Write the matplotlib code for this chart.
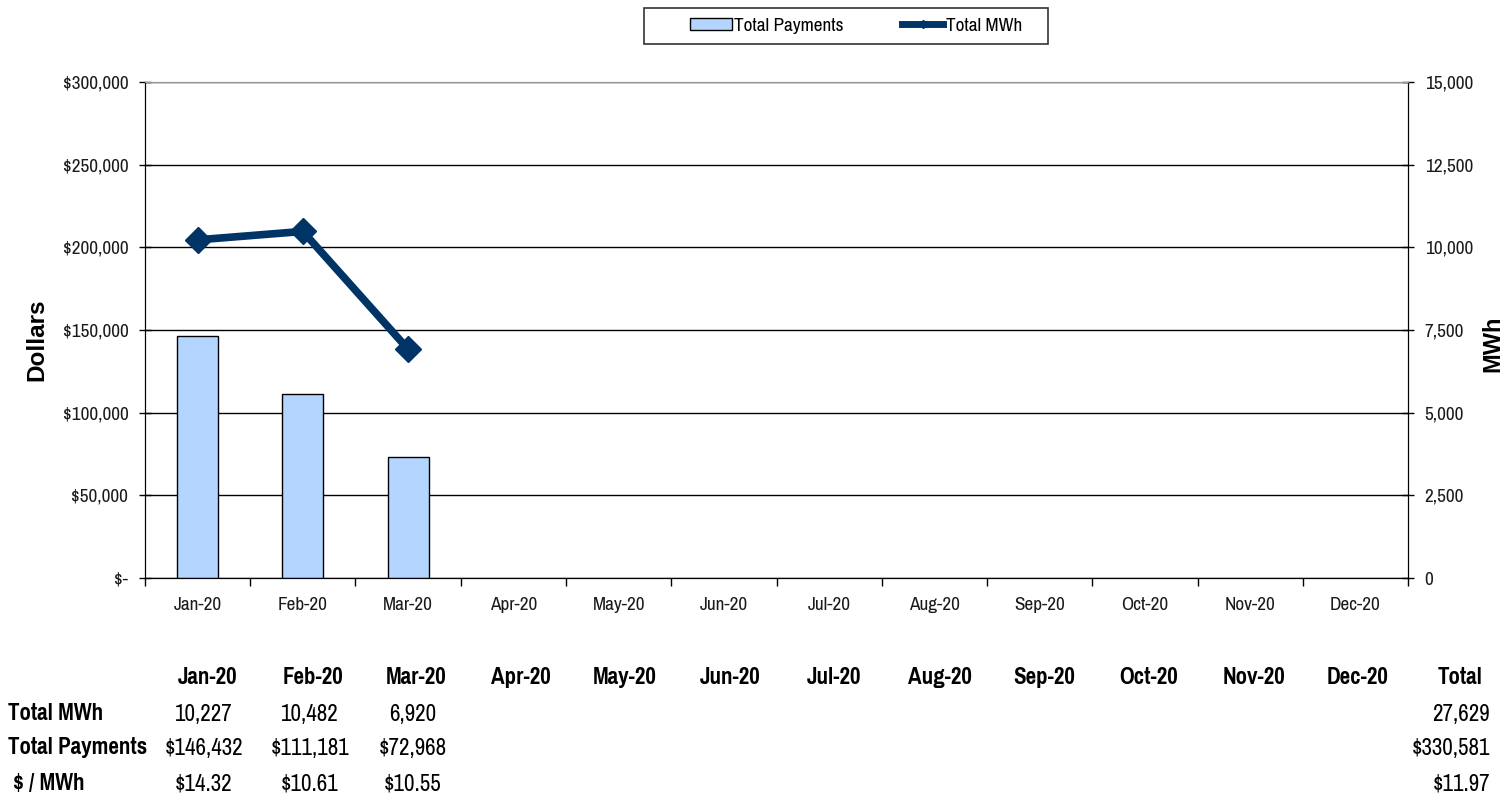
import matplotlib as mpl
mpl.use("Agg")
import matplotlib.pyplot as plt
import matplotlib.ticker as mticker
from matplotlib.patches import Patch, Rectangle
from matplotlib.lines import Line2D

mpl.rcParams['font.family'] = ['Pragati Narrow', 'Archivo Narrow', 'Liberation Sans', 'DejaVu Sans']

COLOR_BAR = "#B3D5FF"
COLOR_LINE = "#013466"
TEXT = "#1a1a1a"

MONTHS = ["Jan-20", "Feb-20", "Mar-20", "Apr-20", "May-20", "Jun-20",
          "Jul-20", "Aug-20", "Sep-20", "Oct-20", "Nov-20", "Dec-20"]
payments = [146432, 111181, 72968]
mwh = [10227, 10482, 6920]

row_labels = ["Total MWh", "Total Payments", " $ / MWh"]
row_values = [["10,227", "10,482", "6,920"],
              ["$146,432", "$111,181", "$72,968"],
              ["$14.32", "$10.61", "$10.55"]]
row_totals = ["27,629", "$330,581", "$11.97"]

W, H = 1510.0, 801.0
fig = plt.figure(figsize=(15.10, 8.01), dpi=100)
ax = fig.add_axes([0.096, 0.2784, 0.8365, 0.6192])
ax2 = ax.twinx()

x_bar = list(range(len(payments)))
ax.bar(x_bar, payments, width=0.39, color=COLOR_BAR, edgecolor="black",
       linewidth=1.0, zorder=3)
ax2.plot(range(len(mwh)), mwh, color=COLOR_LINE, linewidth=5.5,
         marker="D", markersize=13, zorder=4)

ax.set_xlim(-0.5, 11.5)
ax.set_ylim(0, 300000)
ax2.set_ylim(0, 15000)
ax.set_yticks(range(0, 300001, 50000))
ax2.set_yticks(range(0, 15001, 2500))

ax.yaxis.set_major_formatter(mticker.FuncFormatter(
    lambda v, p: "$-" if v == 0 else "${:,.0f}".format(v)))
ax2.yaxis.set_major_formatter(mticker.FuncFormatter(
    lambda v, p: "{:,.0f}".format(v)))

ax.set_xticks(range(12))
ax.set_xticklabels(MONTHS)
ax.set_xticks([i + 0.5 for i in range(-1, 12)], minor=True)
ax.tick_params(axis="x", which="major", length=0, pad=14,
               labelsize=15, labelcolor=TEXT)
ax.tick_params(axis="x", which="minor", length=6, direction="out",
               width=1, color="black")

ax.tick_params(axis="y", direction="inout", length=8, width=1,
               labelsize=15, labelcolor=TEXT, pad=8)
ax2.tick_params(axis="y", direction="inout", length=8, width=1,
                labelsize=15, labelcolor=TEXT, pad=8)

ax.grid(axis="y", color="black", linewidth=1, zorder=0)
ax.set_axisbelow(True)
for a in (ax, ax2):
    a.spines["top"].set_color("#999999")
    a.spines["left"].set_color("black")
    a.spines["right"].set_color("black")
    a.spines["bottom"].set_color("black")

fig.text(37 / W, 1 - 340 / H, "Dollars", rotation=90, ha="center", va="center",
         fontsize=17.5, fontweight="bold", family="Liberation Sans")
fig.text(1493 / W, 1 - 344 / H, "MWh", rotation=90, ha="center", va="center",
         fontsize=17, fontweight="bold", family="Liberation Sans")

# legend: frame drawn as a box, entries centred inside it
fig.patches.append(Rectangle((644 / W, 1 - 44 / H), 404 / W, 36 / H,
                             transform=fig.transFigure, facecolor="white",
                             edgecolor="#333333", linewidth=1.2))
handles = [Patch(facecolor=COLOR_BAR, edgecolor="black", label="Total Payments"),
           Line2D([0], [0], color=COLOR_LINE, linewidth=5, marker="D",
                  markersize=4, label="Total MWh")]
leg = fig.legend(handles=handles, loc="center", ncol=2,
                 bbox_to_anchor=(856 / W, 1 - 26 / H), fontsize=15,
                 frameon=False, columnspacing=2.8, handlelength=2.0,
                 handletextpad=0.1, handleheight=0.5, borderaxespad=0)

# data table below the chart
col_x = [207, 313, 416, 521, 625, 730, 834, 940, 1044, 1149, 1254, 1358]
row_y = [714, 748, 784]
for cx, m in zip(col_x, MONTHS):
    fig.text(cx / W, 1 - 677 / H, m, ha="center", va="center",
             fontsize=18, fontweight="bold", color="black")
fig.text(1482 / W, 1 - 677 / H, "Total", ha="right", va="center",
         fontsize=18, fontweight="bold", color="black")
for ry, lab, vals, tot in zip(row_y, row_labels, row_values, row_totals):
    fig.text(8 / W, 1 - ry / H, lab, ha="left", va="center",
             fontsize=18, fontweight="bold", color="black")
    for cx, v in zip(col_x, vals):
        fig.text((cx - 3) / W, 1 - ry / H, v, ha="center", va="center",
                 fontsize=18, color="black")
    fig.text(1490 / W, 1 - ry / H, tot, ha="right", va="center",
             fontsize=18, color="black")

fig.savefig("out.png", dpi=100)
